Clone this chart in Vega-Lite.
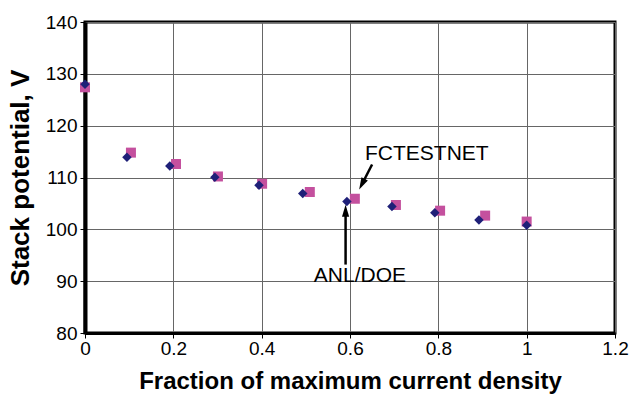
{
  "$schema": "https://vega.github.io/schema/vega-lite/v6.json",
  "autosize": "none",
  "width": 530,
  "height": 311,
  "padding": {"left": 85, "top": 22, "right": 14, "bottom": 68},
  "background": "white",
  "config": {
    "view": {"stroke": "black", "strokeWidth": 3},
    "axis": {
      "domainColor": "black",
      "domainWidth": 3,
      "tickColor": "black",
      "tickWidth": 1,
      "tickSize": 5,
      "gridColor": "#666666",
      "gridWidth": 1,
      "labelFont": "Liberation Sans Narrow, Liberation Sans, Arial",
      "labelFontSize": 19,
      "labelColor": "black",
      "labelFlush": false,
      "labelOverlap": false,
      "titleFont": "Liberation Sans, Arial",
      "titleFontWeight": "bold",
      "titleColor": "black"
    }
  },
  "datasets": {
    "points": [
      {"series": "FCTESTNET", "x": 0.0, "v": 127.4},
      {"series": "FCTESTNET", "x": 0.104, "v": 114.8},
      {"series": "FCTESTNET", "x": 0.206, "v": 112.6},
      {"series": "FCTESTNET", "x": 0.301, "v": 110.2},
      {"series": "FCTESTNET", "x": 0.401, "v": 108.8},
      {"series": "FCTESTNET", "x": 0.509, "v": 107.2},
      {"series": "FCTESTNET", "x": 0.611, "v": 105.9},
      {"series": "FCTESTNET", "x": 0.704, "v": 104.7},
      {"series": "FCTESTNET", "x": 0.804, "v": 103.6},
      {"series": "FCTESTNET", "x": 0.906, "v": 102.65},
      {"series": "FCTESTNET", "x": 1.0, "v": 101.5},
      {"series": "ANL/DOE", "x": 0.0, "v": 128.0},
      {"series": "ANL/DOE", "x": 0.095, "v": 113.9},
      {"series": "ANL/DOE", "x": 0.192, "v": 112.2},
      {"series": "ANL/DOE", "x": 0.294, "v": 110.05},
      {"series": "ANL/DOE", "x": 0.394, "v": 108.5},
      {"series": "ANL/DOE", "x": 0.493, "v": 106.9},
      {"series": "ANL/DOE", "x": 0.593, "v": 105.35},
      {"series": "ANL/DOE", "x": 0.695, "v": 104.4},
      {"series": "ANL/DOE", "x": 0.792, "v": 103.2},
      {"series": "ANL/DOE", "x": 0.892, "v": 101.8},
      {"series": "ANL/DOE", "x": 1.0, "v": 100.8}
    ],
    "notes": [
      {"label": "FCTESTNET", "tx": 0.634, "ty": 113.3, "x1": 0.650, "y1": 112.5, "x2": 0.627, "y2": 108.7},
      {"label": "ANL/DOE", "tx": 0.518, "ty": 89.76, "x1": 0.590, "y1": 93.2, "x2": 0.590, "y2": 103.6}
    ]
  },
  "layer": [
    {
      "data": {"name": "points"},
      "transform": [{"filter": "datum.series === 'FCTESTNET'"}],
      "mark": {"type": "point", "shape": "square", "filled": true, "size": 100, "color": "#c4509e", "opacity": 1},
      "encoding": {
        "x": {
          "field": "x", "type": "quantitative",
          "scale": {"domain": [0, 1.2], "nice": false, "zero": false},
          "axis": {
            "values": [0, 0.2, 0.4, 0.6, 0.8, 1, 1.2],
            "format": "~g",
            "title": "Fraction of maximum current density",
            "titleFontSize": 24,
            "titlePadding": 11,
            "labelPadding": 1,
            "grid": true
          }
        },
        "y": {
          "field": "v", "type": "quantitative",
          "scale": {"domain": [80, 140], "nice": false, "zero": false},
          "axis": {
            "values": [80, 90, 100, 110, 120, 130, 140],
            "title": "Stack potential, V",
            "titleFontSize": 26,
            "titlePadding": 12,
            "labelPadding": 3,
            "domainWidth": 4,
            "grid": true
          }
        }
      }
    },
    {
      "data": {"name": "points"},
      "transform": [{"filter": "datum.series === 'ANL/DOE'"}],
      "mark": {"type": "point", "shape": "diamond", "filled": true, "size": 90, "color": "#1f2078", "opacity": 1},
      "encoding": {
        "x": {"field": "x", "type": "quantitative"},
        "y": {"field": "v", "type": "quantitative"}
      }
    },
    {
      "data": {"name": "notes"},
      "mark": {"type": "rule", "color": "black", "strokeWidth": 2.5},
      "encoding": {
        "x": {"field": "x1", "type": "quantitative"},
        "y": {"field": "y1", "type": "quantitative"},
        "x2": {"field": "x2"},
        "y2": {"field": "y2"}
      }
    },
    {
      "data": {"name": "notes"},
      "mark": {"type": "point", "shape": "M0,-1L0.6,1L-0.6,1Z", "filled": true, "size": 144, "color": "black", "opacity": 1},
      "encoding": {
        "x": {"field": "x2", "type": "quantitative"},
        "y": {"field": "y2", "type": "quantitative"},
        "angle": {"condition": {"test": "datum.label === 'FCTESTNET'", "value": 207}, "value": 0}
      }
    },
    {
      "data": {"name": "notes"},
      "mark": {"type": "text", "align": "left", "baseline": "alphabetic", "font": "Liberation Sans, Arial", "fontSize": 21, "color": "black"},
      "encoding": {
        "x": {"field": "tx", "type": "quantitative"},
        "y": {"field": "ty", "type": "quantitative"},
        "text": {"field": "label"}
      }
    }
  ]
}
